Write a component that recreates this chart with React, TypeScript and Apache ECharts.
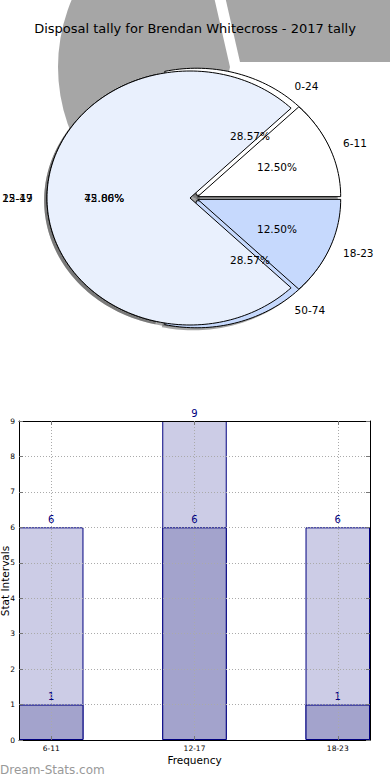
import React, { useEffect, useRef } from 'react';
import * as echarts from 'echarts';

// ---------- data ----------
const chartTitle = 'Disposal tally for Brendan Whitecross - 2017 tally';
const pieACategories = ['6-11', '12-17', '18-23'];
const pieAValues = [1, 6, 1];
const pieBCategories = ['0-24', '25-49', '50-74'];
const pieBValues = [2, 3, 2];
const barCategories = ['6-11', '12-17', '18-23'];
const barTotals = [6, 9, 6];
const barCounts = [1, 6, 1];
const yTicks = [0, 1, 2, 3, 4, 5, 6, 7, 8, 9];
const xTickPositions = [0, 1, 2];
const xAxisTitle = 'Frequency';
const yAxisTitle = 'Stat Intervals';
const watermark = 'Dream-Stats.com';

// ---------- styles / layout ----------
const FONT = 'DejaVu Sans';
const sliceColors = ['#ffffff', '#e9f0fd', '#c6d9fd'];
const shadowFill = 'rgba(77,77,77,0.5)';
const PIE = { cx: 194, cy: 198, rx: 143, ry: 127, explode: 0.028, sdx: -2.86, sdy: 2.54, labelDist: 1.1, pctDist: 0.6 };
const GRID = { left: 19, right: 20, top: 421, bottom: 40 };
const X_MIN = -0.225;
const X_MAX = 2.225;
const BAR_UNIT = 0.45;
const BAR_W = (BAR_UNIT * (390 - GRID.left - GRID.right)) / (X_MAX - X_MIN);
const D = Math.PI / 180;

function sliceGeom(values: number[], i: number) {
  const total = values.reduce((a, b) => a + b, 0);
  let start = 0;
  for (let k = 0; k < i; k++) start += (values[k] / total) * 360;
  const sweep = (values[i] / total) * 360;
  const mid = start + sweep / 2;
  const m = mid * D;
  const ox = PIE.cx + PIE.explode * PIE.rx * Math.cos(m);
  const oy = PIE.cy - PIE.explode * PIE.ry * Math.sin(m);
  return { start, sweep, mid, ox, oy, pct: (values[i] / total) * 100 };
}

function wedgePoints(g: any, dx = 0, dy = 0) {
  const pts: number[][] = [[g.ox + dx, g.oy + dy]];
  const n = Math.max(10, Math.ceil(g.sweep / 1.5));
  for (let j = 0; j <= n; j++) {
    const a = (g.start + (g.sweep * j) / n) * D;
    pts.push([g.ox + dx + PIE.rx * Math.cos(a), g.oy + dy - PIE.ry * Math.sin(a)]);
  }
  return pts;
}

const pies = [
  { cats: pieBCategories, vals: pieBValues },
  { cats: pieACategories, vals: pieAValues },
];
const allSlices: { p: number; i: number }[] = [];
pies.forEach((pie, p) => pie.vals.forEach((_, i) => allSlices.push({ p, i })));

function wedgeSeries(p: number, z: number) {
  const pie = pies[p];
  return {
    type: 'custom',
    coordinateSystem: 'none',
    z,
    silent: true,
    data: pie.vals.map((v, i) => ({ name: pie.cats[i], value: [v] })),
    renderItem: (params: any) => {
      const i = params.dataIndex;
      const g = sliceGeom(pie.vals, i);
      return {
        type: 'polygon',
        shape: { points: wedgePoints(g) },
        style: { fill: sliceColors[i], stroke: '#000', lineWidth: 1 },
      };
    },
  };
}

export default function App() {
  const ref = useRef<HTMLDivElement>(null);
  useEffect(() => {
    if (!ref.current) return;
    const chart = echarts.init(ref.current, undefined, { renderer: 'svg' });
    const totalB = pieBValues.reduce((a, b) => a + b, 0);
    const edge1 = (pieBValues[0] / totalB) * 360;
    const edge2 = ((pieBValues[0] + pieBValues[1]) / totalB) * 360;

    const gridMarks = [
      ...yTicks.filter((v) => v > 0 && v < 9).map((v) => ({ yAxis: v })),
      ...xTickPositions.map((v) => ({ xAxis: v })),
    ];

    const barLabel = {
      show: true,
      position: 'top',
      distance: 3,
      color: '#000080',
      fontSize: 10,
      fontFamily: FONT,
      formatter: (p: any) => String(p.value[1]),
    };

    const option: any = {
      animation: false,
      backgroundColor: '#ffffff',
      title: {
        text: chartTitle,
        left: 'center',
        top: 17,
        textStyle: { fontSize: 13, fontWeight: 'normal', color: '#000', fontFamily: FONT },
      },
      graphic: [
        {
          type: 'sector',
          z: 0,
          silent: true,
          shape: { cx: 230, cy: 67, r: 172, r0: 0, startAngle: (360 - edge2) * D, endAngle: (360 - edge1) * D, clockwise: true },
          style: { fill: shadowFill },
        },
        {
          type: 'sector',
          z: 0,
          silent: true,
          shape: { cx: 240, cy: 62, r: 420, r0: 0, startAngle: -edge1 * D, endAngle: 0, clockwise: true },
          style: { fill: shadowFill },
        },
        {
          type: 'text',
          z: 10,
          x: 0,
          y: 770,
          style: { text: watermark, fill: '#999999', font: `12px "${FONT}"`, align: 'left', verticalAlign: 'middle' },
        },
        {
          type: 'text',
          z: 10,
          x: 5,
          y: 581,
          rotation: Math.PI / 2,
          style: { text: yAxisTitle, fill: '#000', font: `10.5px "${FONT}"`, align: 'center', verticalAlign: 'middle' },
        },
      ],
      grid: {
        left: GRID.left,
        right: GRID.right,
        top: GRID.top,
        bottom: GRID.bottom,
        containLabel: false,
        outerBoundsMode: 'none',
      },
      xAxis: [
        {
          type: 'value',
          position: 'bottom',
          min: X_MIN,
          max: X_MAX,
          z: 5,
          axisLine: { show: true, onZero: false, lineStyle: { color: '#000', width: 1 } },
          axisTick: { show: true, inside: true, length: 4, customValues: xTickPositions, lineStyle: { color: '#777' } },
          axisLabel: {
            customValues: xTickPositions,
            formatter: (v: number) => barCategories[Math.round(v)] ?? '',
            fontSize: 7.5,
            color: '#000',
            margin: 4,
            fontFamily: FONT,
          },
          splitLine: { show: false },
          name: xAxisTitle,
          nameLocation: 'middle',
          nameGap: 14,
          nameTextStyle: { fontSize: 10.5, color: '#000', fontFamily: FONT },
        },
        {
          type: 'value',
          position: 'top',
          min: X_MIN,
          max: X_MAX,
          z: 5,
          axisLine: { show: true, onZero: false, lineStyle: { color: '#000', width: 1 } },
          axisTick: { show: true, inside: true, length: 4, customValues: xTickPositions, lineStyle: { color: '#777' } },
          axisLabel: { show: false },
          splitLine: { show: false },
        },
      ],
      yAxis: [
        {
          type: 'value',
          position: 'left',
          min: 0,
          max: 9,
          interval: 1,
          z: 5,
          axisLine: { show: true, onZero: false, lineStyle: { color: '#000', width: 1 } },
          axisTick: { show: true, inside: true, length: 4, lineStyle: { color: '#777' } },
          axisLabel: { fontSize: 7.5, color: '#000', margin: 4, fontFamily: FONT },
          splitLine: { show: false },
        },
        {
          type: 'value',
          position: 'right',
          min: 0,
          max: 9,
          interval: 1,
          z: 5,
          axisLine: { show: true, onZero: false, lineStyle: { color: '#000', width: 1 } },
          axisTick: { show: true, inside: true, length: 4, lineStyle: { color: '#777' } },
          axisLabel: { show: false },
          splitLine: { show: false },
        },
      ],
      series: [
        // shadows of both pies
        {
          type: 'custom',
          coordinateSystem: 'none',
          z: 1,
          silent: true,
          data: allSlices.map((s) => ({ name: pies[s.p].cats[s.i], value: [pies[s.p].vals[s.i]] })),
          renderItem: (params: any) => {
            const s = allSlices[params.dataIndex];
            const g = sliceGeom(pies[s.p].vals, s.i);
            return { type: 'polygon', shape: { points: wedgePoints(g, PIE.sdx, PIE.sdy) }, style: { fill: shadowFill } };
          },
        },
        wedgeSeries(0, 2),
        wedgeSeries(1, 3),
        // pie labels
        {
          type: 'custom',
          coordinateSystem: 'none',
          z: 4,
          silent: true,
          data: allSlices.map((s) => ({ name: pies[s.p].cats[s.i], value: [pies[s.p].vals[s.i]] })),
          renderItem: (params: any) => {
            const s = allSlices[params.dataIndex];
            const g = sliceGeom(pies[s.p].vals, s.i);
            const m = g.mid * D;
            const lx = g.ox + PIE.labelDist * PIE.rx * Math.cos(m);
            const ly = g.oy - PIE.labelDist * PIE.ry * Math.sin(m);
            const px = g.ox + PIE.pctDist * PIE.rx * Math.cos(m);
            const py = g.oy - PIE.pctDist * PIE.ry * Math.sin(m);
            const font = `10.5px "${FONT}"`;
            return {
              type: 'group',
              children: [
                {
                  type: 'text',
                  x: lx,
                  y: ly,
                  style: { text: pies[s.p].cats[s.i], fill: '#000', font, align: Math.cos(m) > 0 ? 'left' : 'right', verticalAlign: 'middle' },
                },
                {
                  type: 'text',
                  x: px,
                  y: py,
                  style: { text: g.pct.toFixed(2) + '%', fill: '#000', font, align: 'center', verticalAlign: 'middle' },
                },
              ],
            };
          },
        },
        // bars
        {
          type: 'bar',
          name: 'total',
          xAxisIndex: 0,
          yAxisIndex: 0,
          data: barTotals.map((v, i) => [i, v]),
          barWidth: BAR_W,
          barGap: '-100%',
          z: 2,
          itemStyle: { color: '#ccccE6', borderColor: '#000080', borderWidth: 1 },
          label: barLabel,
        },
        {
          type: 'bar',
          name: 'count',
          xAxisIndex: 0,
          yAxisIndex: 0,
          data: barCounts.map((v, i) => [i, v]),
          barWidth: BAR_W,
          barGap: '-100%',
          z: 3,
          itemStyle: { color: '#a3a3cc', borderColor: '#000080', borderWidth: 1 },
          label: barLabel,
          markLine: {
            silent: true,
            symbol: ['none', 'none'],
            label: { show: false },
            lineStyle: { color: '#aaaaaa', type: [1, 2], width: 1 },
            data: gridMarks,
          },
        },
      ],
    };
    chart.setOption(option);
    return () => chart.dispose();
  }, []);
  return <div ref={ref} style={{ position: 'absolute', left: 0, top: 0, width: 390, height: 780 }} />;
}
